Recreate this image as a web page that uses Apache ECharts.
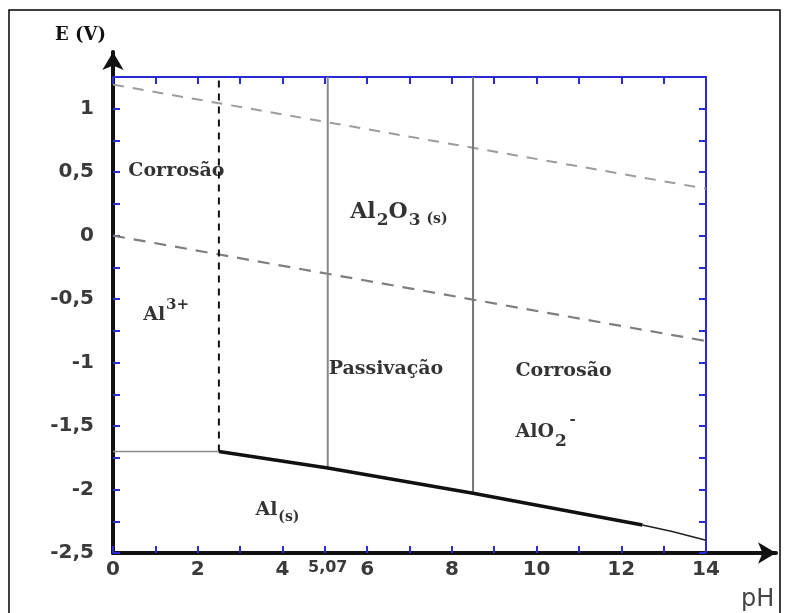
<!DOCTYPE html>
<html>
<head>
<meta charset="utf-8">
<script src="https://cdn.jsdelivr.net/npm/echarts@6/dist/echarts.min.js"></script>
<style>
html, body { margin: 0; padding: 0; background: #fff; }
#chart { width: 788px; height: 613px; }
</style>
</head>
<body>
<div id="chart"></div>
<script>
// eixos
var phTicks = [0, 1, 2, 3, 4, 5, 6, 7, 8, 9, 10, 11, 12, 13, 14];
var phLabels = [0, 2, 4, 5.07, 6, 8, 10, 12, 14];

// linhas do diagrama (pH, E)
var o2Line = [[0, 1.19], [14, 0.37]];
var h2Line = [[0, 0], [14, -0.83]];
var al3Limit = [[2.5, -1.70], [2.5, 1.25]];
var alFlat = [[0, -1.70], [2.5, -1.70]];
var alThick = [[2.5, -1.70], [5.07, -1.83], [8.5, -2.03], [12.5, -2.28]];
var alThin = [[12.5, -2.28], [13.2, -2.33], [14, -2.40]];
var passLeft = [[5.07, -1.83], [5.07, 1.25]];
var passRight = [[8.5, -2.03], [8.5, 1.25]];

// textos das regioes
var regionText = [
    [0.35, 0.57, '{m|Corrosão}'],
    [0.70, -0.57, '{m|Al}{sup|3+}'],
    [5.59, 0.24, '{M|Al}{sub|2}{M|O}{sub|3}{s| (s)}'],
    [5.08, -0.99, '{m|Passivação}'],
    [9.49, -1.01, '{m|Corrosão}'],
    [9.49, -1.49, '{m|AlO}{sub|2}'],
    [10.74, -1.45, '{sup|-}'],
    [3.35, -2.10, '{m|Al}{s|(s)}']
];

var blue = '#2b2bd6';
var serif = 'DejaVu Serif';

function lineSeries(data, color, width, type) {
    return {
        type: 'line',
        data: data,
        symbol: 'none',
        silent: true,
        lineStyle: { color: color, width: width, type: type || 'solid' }
    };
}

var chart = echarts.init(document.getElementById('chart'));

var option = {
    animation: false,
    backgroundColor: '#fff',
    title: [
        { text: 'E (V)', left: 50, top: 21,
          textStyle: { fontFamily: serif, fontWeight: 'bold', fontSize: 18, color: '#111' } },
        { text: 'pH', left: 736, top: 583,
          textStyle: { fontFamily: 'DejaVu Sans', fontWeight: 'normal', fontSize: 24, color: '#444' } }
    ],
    graphic: [
        { type: 'rect', silent: true, z: -1,
          shape: { x: 9, y: 10, width: 771, height: 640 },
          style: { fill: 'transparent', stroke: '#000', lineWidth: 1.5 } }
    ],
    grid: [
        { left: 113, right: 82, top: 77, bottom: 60 },
        { left: 113, right: 12, top: 52, bottom: 60 }
    ],
    xAxis: [
        {
            gridIndex: 0, type: 'value', min: 0, max: 14, position: 'bottom',
            axisLine: { show: false, onZero: false },
            axisTick: { inside: true, length: 7, customValues: phTicks,
                        lineStyle: { color: blue, width: 2 } },
            axisLabel: {
                customValues: phLabels, margin: 7,
                color: '#3a3a3a', fontFamily: 'DejaVu Sans', fontWeight: 'bold',
                formatter: function (v) {
                    return v === 5.07 ? '{s|5,07}' : '{n|' + v + '}';
                },
                rich: {
                    n: { fontSize: 20, fontFamily: 'DejaVu Sans', fontWeight: 'bold', color: '#3a3a3a' },
                    s: { fontSize: 16, fontFamily: 'DejaVu Sans', fontWeight: 'bold', color: '#3a3a3a' }
                }
            },
            splitLine: { show: false }
        },
        {
            gridIndex: 0, type: 'value', min: 0, max: 14, position: 'top',
            axisLine: { show: true, onZero: false, lineStyle: { color: blue, width: 2 } },
            axisTick: { inside: true, length: 7, customValues: phTicks,
                        lineStyle: { color: blue, width: 2 } },
            axisLabel: { show: false },
            splitLine: { show: false }
        },
        {
            gridIndex: 1, type: 'value', min: 0, max: 1,
            axisLine: { show: true, onZero: false, symbol: ['none', 'arrow'], symbolSize: [16, 18],
                        lineStyle: { color: '#111', width: 4 } },
            axisTick: { show: false }, axisLabel: { show: false }, splitLine: { show: false }
        }
    ],
    yAxis: [
        {
            gridIndex: 0, type: 'value', min: -2.5, max: 1.25, interval: 0.25, position: 'left',
            axisLine: { show: false, onZero: false },
            axisTick: { inside: true, length: 7, lineStyle: { color: blue, width: 2 } },
            axisLabel: {
                margin: 19, color: '#3a3a3a', fontFamily: 'DejaVu Sans', fontWeight: 'bold', fontSize: 20,
                formatter: function (v) {
                    var half = Math.abs(v * 2 - Math.round(v * 2)) < 1e-9;
                    return (half && v <= 1) ? String(v).replace('.', ',') : '';
                }
            },
            splitLine: { show: false }
        },
        {
            gridIndex: 0, type: 'value', min: -2.5, max: 1.25, interval: 0.25, position: 'right',
            axisLine: { show: true, onZero: false, lineStyle: { color: blue, width: 2 } },
            axisTick: { inside: true, length: 7, lineStyle: { color: blue, width: 2 } },
            axisLabel: { show: false },
            splitLine: { show: false }
        },
        {
            gridIndex: 1, type: 'value', min: 0, max: 1,
            axisLine: { show: true, onZero: false, symbol: ['none', 'arrow'], symbolSize: [16, 18],
                        lineStyle: { color: '#111', width: 4 } },
            axisTick: { show: false }, axisLabel: { show: false }, splitLine: { show: false }
        }
    ],
    series: [
        lineSeries(o2Line, '#9c9c9c', 2, [11, 9]),
        lineSeries(h2Line, '#7e7e7e', 2.2, [12, 9]),
        lineSeries(al3Limit, '#111', 2, [7, 6]),
        lineSeries(alFlat, '#8a8a8a', 1.6),
        lineSeries(passLeft, '#888', 2),
        lineSeries(passRight, '#777', 2),
        lineSeries(alThick, '#111', 3.5),
        lineSeries(alThin, '#222', 1.6),
        {
            type: 'scatter',
            silent: true,
            symbolSize: 1,
            itemStyle: { color: 'transparent' },
            data: regionText.map(function (r) { return { value: [r[0], r[1]], name: r[2] }; }),
            label: {
                show: true, position: 'right', distance: 0,
                formatter: function (p) { return p.name; },
                rich: {
                    m: { fontFamily: serif, fontWeight: 'bold', fontSize: 19, color: '#000',
                         lineHeight: 20, verticalAlign: 'top', padding: [8, 0, 0, 0] },
                    M: { fontFamily: serif, fontWeight: 'bold', fontSize: 22, color: '#000',
                         lineHeight: 22, verticalAlign: 'top', padding: [7, 0, 0, 0] },
                    sub: { fontFamily: serif, fontWeight: 'bold', fontSize: 17, color: '#000',
                           lineHeight: 16, verticalAlign: 'top', padding: [18, 0, 0, 1] },
                    s: { fontFamily: serif, fontWeight: 'bold', fontSize: 14, color: '#000',
                         lineHeight: 14, verticalAlign: 'top', padding: [18, 0, 0, 1] },
                    sup: { fontFamily: serif, fontWeight: 'bold', fontSize: 15, color: '#000',
                           lineHeight: 14, verticalAlign: 'top', padding: [0, 0, 0, 1] }
                }
            }
        }
    ]
};

chart.setOption(option);
</script>
</body>
</html>
